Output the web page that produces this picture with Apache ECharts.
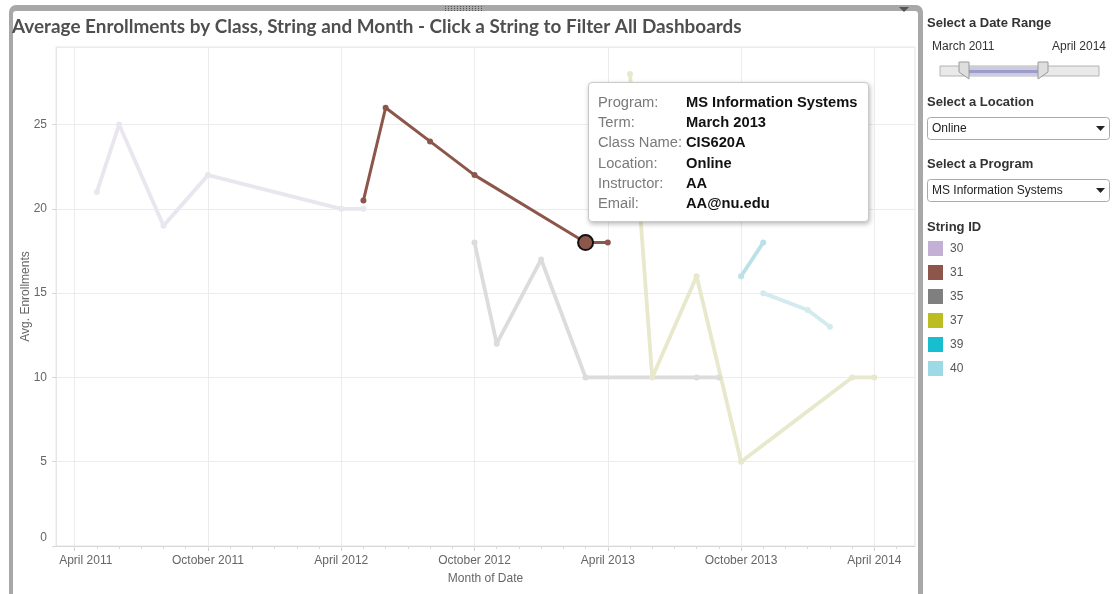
<!DOCTYPE html>
<html lang="en">
<head>
<meta charset="utf-8">
<title>Average Enrollments by Class, String and Month</title>
<script src="https://cdn.jsdelivr.net/npm/echarts@6/dist/echarts.min.js"></script>
<style>
    html, body {margin: 0; padding: 0; background: #fff;}
    #main {width: 1112px; height: 594px;}
</style>
</head>
<body>
<div id="main"></div>
<script type="text/javascript">
    // tick labels of the month axis
    var tickMonths = ['2011-04', '2011-10', '2012-04', '2012-10', '2013-04', '2013-10', '2014-04'];
    var monthNames = ['January', 'February', 'March', 'April', 'May', 'June', 'July',
        'August', 'September', 'October', 'November', 'December'];

    // strings (legend) - full colour for the legend, faded colour for unselected lines
    var stringIds = ['30', '31', '35', '37', '39', '40'];
    var stringColors = ['#c5b0d5', '#8c564b', '#7f7f7f', '#bcbd22', '#17becf', '#9edae5'];
    var fadedColors = ['#e9e6ef', '#e3d8d5', '#dcdcdc', '#e8e8cc', '#b9e1e7', '#d3eaee'];

    // average enrollments per string
    var s30Months = ['2011-05', '2011-06', '2011-08', '2011-10', '2012-04', '2012-05'];
    var s30Values = [21, 25, 19, 22, 20, 20];
    var s31Months = ['2012-05', '2012-06', '2012-08', '2012-10', '2013-03', '2013-04'];
    var s31Values = [20.5, 26, 24, 22, 18, 18];
    var s35Months = ['2012-10', '2012-11', '2013-01', '2013-03', '2013-08', '2013-09'];
    var s35Values = [18, 12, 17, 10, 10, 10];
    var s37Months = ['2013-05', '2013-06', '2013-08', '2013-10', '2014-03', '2014-04'];
    var s37Values = [28, 10, 16, 5, 10, 10];
    var s39Months = ['2013-10', '2013-11'];
    var s39Values = [16, 18];
    var s40Months = ['2013-11', '2014-01', '2014-02'];
    var s40Values = [15, 14, 13];

    var selectedString = '31';
    var selectedMonth = '2013-03';

    // tooltip of the selected mark
    var tipLabels = ['Program:', 'Term:', 'Class Name:', 'Location:', 'Instructor:', 'Email:'];
    var tipValues = ['MS Information Systems', 'March 2013', 'CIS620A', 'Online', 'AA', 'AA@nu.edu'];

    // filters on the right
    var dateRange = ['March 2011', 'April 2014'];
    var locationValue = 'Online';
    var programValue = 'MS Information Systems';

    var allMonths = [s30Months, s31Months, s35Months, s37Months, s39Months, s40Months];
    var allValues = [s30Values, s31Values, s35Values, s37Values, s39Values, s40Values];

    function monthIndex(s) {
        var p = s.split('-');
        return (parseInt(p[0], 10) - 2011) * 12 + parseInt(p[1], 10) - 1;
    }
    function monthLabel(idx) {
        return monthNames[idx % 12] + ' ' + (2011 + Math.floor(idx / 12));
    }

    var xMin = monthIndex('2011-04') - 0.84;
    var xMax = monthIndex('2014-04') + 1.83;
    var majorTicks = tickMonths.map(monthIndex);
    // first label is pushed inside the plot, like tableau does
    var labelPos = majorTicks.map(function (v, i) { return i === 0 ? v + 0.5 : v; });
    var minorTicks = [];
    for (var m = majorTicks[0]; m <= xMax; m++) minorTicks.push(m);

    var fontAxis = 'Liberation Sans, Arial, sans-serif';

    var myChart = echarts.init(document.getElementById('main'), null, {renderer: 'canvas'});

    var series = [];
    var selIndex = 0, selDataIndex = 0;
    stringIds.forEach(function (id, k) {
        var isSel = id === selectedString;
        var col = isSel ? stringColors[k] : fadedColors[k];
        var data = allMonths[k].map(function (mo, i) {
            var pt = [monthIndex(mo), allValues[k][i]];
            if (isSel && mo === selectedMonth) {
                selIndex = k;
                selDataIndex = i;
                return {
                    value: pt, symbolSize: 15,
                    itemStyle: {color: col, borderColor: '#111', borderWidth: 2}
                };
            }
            return pt;
        });
        series.push({
            name: id,
            type: 'line',
            data: data,
            symbol: 'circle',
            symbolSize: 6,
            showSymbol: true,
            z: isSel ? 5 : 2,
            lineStyle: {color: col, width: isSel ? 3 : 3.8},
            itemStyle: {color: col},
            emphasis: {disabled: true}
        });
    });

    var option = {
        animation: false,
        title: {
            text: 'Average Enrollments by Class, String and Month - Click a String to Filter All Dashboards',
            left: 12, top: 17, padding: 0,
            textStyle: {fontFamily: 'Lato, sans-serif', fontSize: 18.9, fontWeight: 'bold', color: '#4f4f4f'}
        },
        grid: {
            left: 56, right: 197, top: 47, bottom: 48,
            show: true, borderColor: '#e6e6e6', borderWidth: 1
        },
        xAxis: [{
            type: 'value',
            min: xMin, max: xMax,
            name: 'Month of Date',
            nameLocation: 'middle',
            nameGap: 27,
            nameMoveOverlap: false,
            nameTextStyle: {fontFamily: fontAxis, fontSize: 12, color: '#666'},
            axisLine: {show: true, lineStyle: {color: '#d6d6d6', width: 1}},
            axisTick: {show: true, length: 5, customValues: majorTicks, lineStyle: {color: '#cfcfcf'}},
            axisLabel: {
                customValues: labelPos,
                margin: 9,
                fontFamily: fontAxis, fontSize: 12, color: '#666',
                formatter: function (v) { return monthLabel(Math.floor(v)); }
            },
            splitLine: {show: true, lineStyle: {color: '#ececec', width: 1}}
        }, {
            type: 'value',
            min: xMin, max: xMax,
            position: 'bottom',
            axisLine: {show: false},
            axisTick: {show: true, length: 3, customValues: minorTicks, lineStyle: {color: '#dadada'}},
            axisLabel: {show: false},
            splitLine: {show: false}
        }],
        yAxis: {
            type: 'value',
            min: 0, max: 29.6, interval: 5,
            name: 'Avg. Enrollments',
            nameLocation: 'middle',
            nameGap: 24,
            nameMoveOverlap: false,
            nameTextStyle: {fontFamily: fontAxis, fontSize: 12, color: '#666'},
            axisLine: {show: true, lineStyle: {color: '#e6e6e6'}},
            axisTick: {show: true, length: 4, lineStyle: {color: '#d6d6d6'}},
            axisLabel: {
                showMaxLabel: false,
                margin: 9,
                fontFamily: fontAxis, fontSize: 12, color: '#666',
                formatter: function (v) { return v === 0 ? '{z|0}' : String(v); },
                rich: {z: {fontFamily: fontAxis, fontSize: 12, color: '#666', padding: [0, 0, 16, 0]}}
            },
            splitLine: {show: true, lineStyle: {color: '#ececec', width: 1}}
        },
        legend: {
            orient: 'vertical',
            left: 928, top: 241,
            padding: 0,
            itemWidth: 15, itemHeight: 15, itemGap: 9,
            icon: 'rect',
            selectedMode: false,
            lineStyle: {width: 0, opacity: 0},
            textStyle: {fontFamily: fontAxis, fontSize: 12, color: '#555', padding: [0, 0, 0, 2]},
            data: stringIds.map(function (id, k) {
                return {name: id, itemStyle: {color: stringColors[k]}};
            })
        },
        tooltip: {
            trigger: 'item',
            triggerOn: 'none',
            alwaysShowContent: true,
            transitionDuration: 0,
            position: [588, 82],
            padding: [9, 11, 8, 9],
            backgroundColor: '#fff',
            borderColor: '#c9c9c9',
            borderWidth: 1,
            textStyle: {fontFamily: fontAxis, fontSize: 14, color: '#111'},
            extraCssText: 'border-radius:4px;box-shadow:1px 2px 5px rgba(0,0,0,0.28);',
            formatter: function () {
                return tipLabels.map(function (l, i) {
                    return '<div style="height:20.2px;line-height:20.2px;white-space:nowrap;font-family:Liberation Sans,Arial,sans-serif;font-size:14.7px">' +
                        '<span style="display:inline-block;width:88px;color:#7a7a7a">' + l + '</span>' +
                        '<span style="font-weight:bold;color:#111">' + tipValues[i] + '</span></div>';
                }).join('');
            }
        },
        graphic: buildDecor(),
        series: series
    };

    function buildDecor() {
        var els = [];
        // worksheet frame
        els.push({type: 'rect', silent: true, z: -20, shape: {x: 9, y: 5, width: 914, height: 620, r: 7}, style: {fill: '#a8a8a8'}});
        els.push({type: 'rect', silent: true, z: -19, shape: {x: 13, y: 11, width: 905, height: 620, r: [3, 3, 0, 0]}, style: {fill: '#fff'}});
        // grip
        for (var i = 0; i < 13; i++) {
            for (var j = 0; j < 3; j++) {
                els.push({type: 'rect', silent: true, z: -18, shape: {x: 445 + i * 3, y: 6 + j * 2, width: 1, height: 1}, style: {fill: '#555'}});
            }
        }
        els.push({type: 'polygon', silent: true, z: -18, shape: {points: [[899, 7], [909, 7], [904, 12]]}, style: {fill: '#555'}});

        var head = {fontFamily: fontAxis, fontSize: 13, fontWeight: 'bold', fill: '#333', verticalAlign: 'middle'};
        function header(txt, y) {
            els.push({type: 'text', silent: true, x: 927, y: y, style: Object.assign({text: txt}, head)});
        }
        header('Select a Date Range', 23);
        els.push({type: 'text', silent: true, x: 932, y: 47, style: {text: dateRange[0], fontFamily: fontAxis, fontSize: 12, fill: '#333', verticalAlign: 'middle'}});
        els.push({type: 'text', silent: true, x: 1106, y: 47, style: {text: dateRange[1], fontFamily: fontAxis, fontSize: 12, fill: '#333', align: 'right', verticalAlign: 'middle'}});
        // slider
        els.push({type: 'rect', silent: true, shape: {x: 940, y: 66, width: 159, height: 10}, style: {fill: '#e9e9e9', stroke: '#b4b4b4', lineWidth: 1}});
        els.push({type: 'rect', silent: true, shape: {x: 969, y: 67, width: 69, height: 8}, style: {fill: '#cacae6'}});
        els.push({type: 'rect', silent: true, shape: {x: 969, y: 70, width: 69, height: 3}, style: {fill: '#9c9cc6'}});
        els.push({type: 'polygon', silent: true, shape: {points: [[959, 62], [969, 62], [969, 79], [959, 72]]}, style: {fill: '#dedede', stroke: '#9a9a9a', lineWidth: 1}});
        els.push({type: 'polygon', silent: true, shape: {points: [[1038, 62], [1048, 62], [1048, 72], [1038, 79]]}, style: {fill: '#dedede', stroke: '#9a9a9a', lineWidth: 1}});

        function dropdown(txt, y) {
            els.push({type: 'rect', silent: true, shape: {x: 927.5, y: y + 0.5, width: 182, height: 22, r: 3}, style: {fill: '#fff', stroke: '#a9a9a9', lineWidth: 1}});
            els.push({type: 'text', silent: true, x: 932, y: y + 11.5, style: {text: txt, fontFamily: fontAxis, fontSize: 12, fill: '#222', verticalAlign: 'middle'}});
            els.push({type: 'polygon', silent: true, shape: {points: [[1096, y + 9], [1105, y + 9], [1100.5, y + 14]]}, style: {fill: '#222'}});
        }
        header('Select a Location', 102);
        dropdown(locationValue, 117);
        header('Select a Program', 164);
        dropdown(programValue, 179);
        header('String ID', 227);
        return els;
    }

    myChart.setOption(option);
    myChart.dispatchAction({type: 'showTip', seriesIndex: selIndex, dataIndex: selDataIndex});
</script>
</body>
</html>
